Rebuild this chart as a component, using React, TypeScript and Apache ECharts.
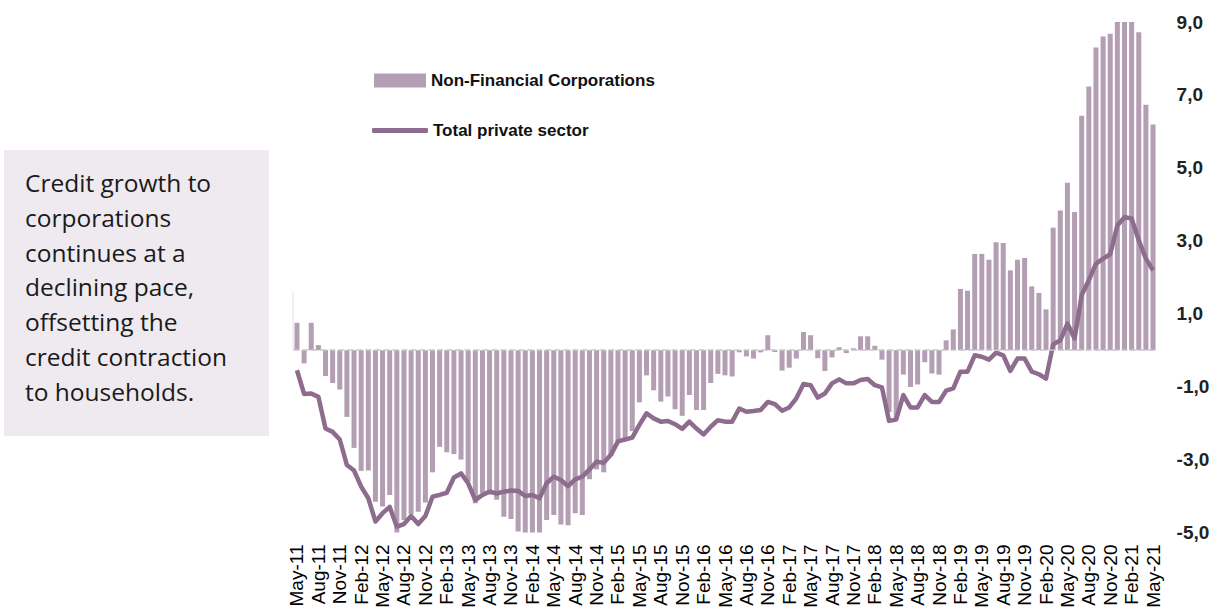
import React, { useEffect, useRef } from "react";
import * as echarts from "echarts";

const MONTHS = ["Jan", "Feb", "Mar", "Apr", "May", "Jun", "Jul", "Aug", "Sep", "Oct", "Nov", "Dec"];
const START_MONTH = 4; // May
const START_YEAR = 11;
const COUNT = 121;

const categories: string[] = [];
for (let k = 0; k < COUNT; k++) {
  const m = (START_MONTH + k) % 12;
  const y = START_YEAR + Math.floor((START_MONTH + k) / 12);
  categories.push(`${MONTHS[m]}-${y}`);
}

const nonFinancialCorporations = [
  0.75, -0.36, 0.75, 0.14, -0.71, -0.9, -1.08, -1.83, -2.68, -3.31,
  -3.3, -4.16, -4.29, -3.97, -5.0, -4.66, -4.5, -4.43, -4.18, -3.35,
  -2.65, -2.8, -2.85, -3.0, -3.6, -4.2, -3.92, -3.92, -4.1, -4.57,
  -4.63, -4.97, -5.0, -5.0, -5.0, -4.66, -4.52, -4.78, -4.8, -4.47,
  -4.52, -3.54, -3.27, -3.35, -2.9, -2.55, -2.47, -2.22, -1.43, -0.69,
  -1.1, -1.41, -1.27, -1.62, -1.8, -1.23, -1.64, -1.64, -0.9, -0.65,
  -0.69, -0.72, -0.06, -0.17, -0.23, -0.06, 0.41, -0.05, -0.56, -0.48,
  -0.23, 0.5, 0.41, -0.22, -0.57, -0.2, 0.08, -0.08, 0.05, 0.38,
  0.38, 0.12, -0.26, -1.7, -1.9, -0.67, -1.01, -0.94, -0.33, -0.64,
  -0.67, 0.27, 0.57, 1.68, 1.63, 2.64, 2.64, 2.48, 2.96, 2.94,
  2.19, 2.48, 2.53, 1.75, 1.57, 1.12, 3.36, 3.83, 4.59, 3.79,
  6.43, 7.23, 8.3, 8.6, 8.68, 9.0, 9.0, 9.0, 8.72, 6.73,
  6.19,
];

const totalPrivateSector = [
  -0.55, -1.2, -1.19, -1.28, -2.15, -2.24, -2.45, -3.15, -3.3, -3.74,
  -4.06, -4.7, -4.47, -4.3, -4.84, -4.77, -4.55, -4.77, -4.55, -4.02,
  -3.97, -3.91, -3.49, -3.38, -3.65, -4.11, -3.97, -3.88, -3.93, -3.88,
  -3.85, -3.86, -4.0, -3.97, -4.06, -3.65, -3.47, -3.56, -3.73, -3.54,
  -3.47, -3.27, -3.06, -3.09, -2.87, -2.5, -2.45, -2.4, -2.05, -1.73,
  -1.87, -1.96, -1.94, -2.03, -2.16, -1.96, -2.15, -2.31, -2.1, -1.92,
  -1.96, -1.96, -1.6, -1.69, -1.67, -1.64, -1.42, -1.48, -1.66, -1.57,
  -1.32, -0.93, -0.96, -1.3, -1.19, -0.91, -0.8, -0.91, -0.91, -0.82,
  -0.79, -0.96, -1.02, -1.94, -1.9, -1.23, -1.57, -1.57, -1.23, -1.42,
  -1.42, -1.11, -1.05, -0.59, -0.59, -0.14, -0.18, -0.26, -0.07, -0.14,
  -0.57, -0.23, -0.23, -0.59, -0.66, -0.78, 0.16, 0.27, 0.73, 0.32,
  1.51, 1.92, 2.37, 2.51, 2.63, 3.42, 3.65, 3.61, 3.01, 2.51,
  2.19,
];

const Y_MIN = -5;
const Y_MAX = 9;

const noteLines = [
  "Credit growth to",
  "corporations",
  "continues at a",
  "declining pace,",
  "offsetting the",
  "credit contraction",
  "to households.",
];

const BAR_NAME = "Non-Financial Corporations";
const LINE_NAME = "Total private sector";
const BAR_COLOR = "#b39eb3";
const LINE_COLOR = "#8d6c8d";
const NARROW = '"Liberation Sans Narrow", "Arial Narrow", "Liberation Sans", Arial, sans-serif';
const legendText = { fontFamily: NARROW, fontWeight: "bold", fontSize: 17, color: "#111" };

export default function App() {
  const ref = useRef<HTMLDivElement>(null);

  useEffect(() => {
    if (!ref.current) return;
    const chart = echarts.init(ref.current, undefined, { renderer: "svg" });
    chart.setOption({
      animation: false,
      backgroundColor: "#ffffff",
      grid: { left: 293.4, right: 65.4, top: 22, bottom: 81.5, containLabel: false },
      legend: [
        {
          orient: "vertical",
          left: 374,
          top: 72,
          padding: 0,
          itemWidth: 52,
          itemHeight: 14,
          itemGap: 6,
          selectedMode: false,
          textStyle: legendText,
          data: [{ name: BAR_NAME, icon: "rect", itemStyle: { color: BAR_COLOR } }],
        },
        {
          orient: "vertical",
          left: 372,
          top: 122,
          padding: 0,
          itemWidth: 56,
          itemHeight: 5,
          itemGap: 6,
          selectedMode: false,
          textStyle: legendText,
          data: [{ name: LINE_NAME, icon: "roundRect", itemStyle: { color: LINE_COLOR } }],
        },
      ],
      xAxis: {
        type: "category",
        data: categories,
        boundaryGap: true,
        axisLine: { show: false },
        axisTick: { show: false },
        axisLabel: {
          interval: 2,
          rotate: 90,
          margin: 12,
          fontFamily: NARROW,
          fontSize: 19,
          color: "#000",
        },
        splitLine: { show: false },
      },
      yAxis: {
        type: "value",
        position: "right",
        min: Y_MIN,
        max: Y_MAX,
        interval: 1,
        axisLine: { show: false },
        axisTick: { show: false },
        splitLine: { show: false },
        axisLabel: {
          margin: 20,
          fontFamily: '"Liberation Sans", Arial, sans-serif',
          fontWeight: "bold",
          fontSize: 19,
          color: "#222",
          formatter: (v: number) =>
            Math.round(v) % 2 !== 0 ? v.toFixed(1).replace(".", ",") : "",
        },
      },
      series: [
        {
          name: BAR_NAME,
          type: "bar",
          data: nonFinancialCorporations,
          barWidth: 5,
          itemStyle: { color: BAR_COLOR },
          z: 2,
          markLine: {
            silent: true,
            symbol: "none",
            label: { show: false },
            lineStyle: { color: "#c8c8c8", type: "dashed", width: 1.5 },
            data: [{ yAxis: 0 }],
          },
        },
        {
          name: LINE_NAME,
          type: "line",
          data: totalPrivateSector,
          symbol: "none",
          showSymbol: false,
          lineStyle: { color: LINE_COLOR, width: 4.5, join: "round" },
          itemStyle: { color: LINE_COLOR },
          z: 3,
        },
      ],
      graphic: [
        {
          type: "rect",
          shape: { x: 4, y: 150, width: 265, height: 286 },
          style: { fill: "#eeeaf0" },
          silent: true,
        },
        {
          type: "text",
          x: 25,
          y: 165,
          style: {
            text: noteLines.join("\n"),
            font: '24.5px "Open Sans", "Noto Sans", sans-serif',
            lineHeight: 34.8,
            fill: "#1a1a1a",
            textVerticalAlign: "top",
          },
          silent: true,
        },
        {
          type: "line",
          shape: { x1: 293, y1: 292, x2: 293, y2: 350 },
          style: { stroke: "#e2e2e2", lineWidth: 1 },
          silent: true,
        },
      ],
    });
    return () => chart.dispose();
  }, []);

  return (
    <div
      ref={ref}
      style={{ position: "absolute", left: 0, top: 0, width: 1222, height: 614 }}
    />
  );
}
